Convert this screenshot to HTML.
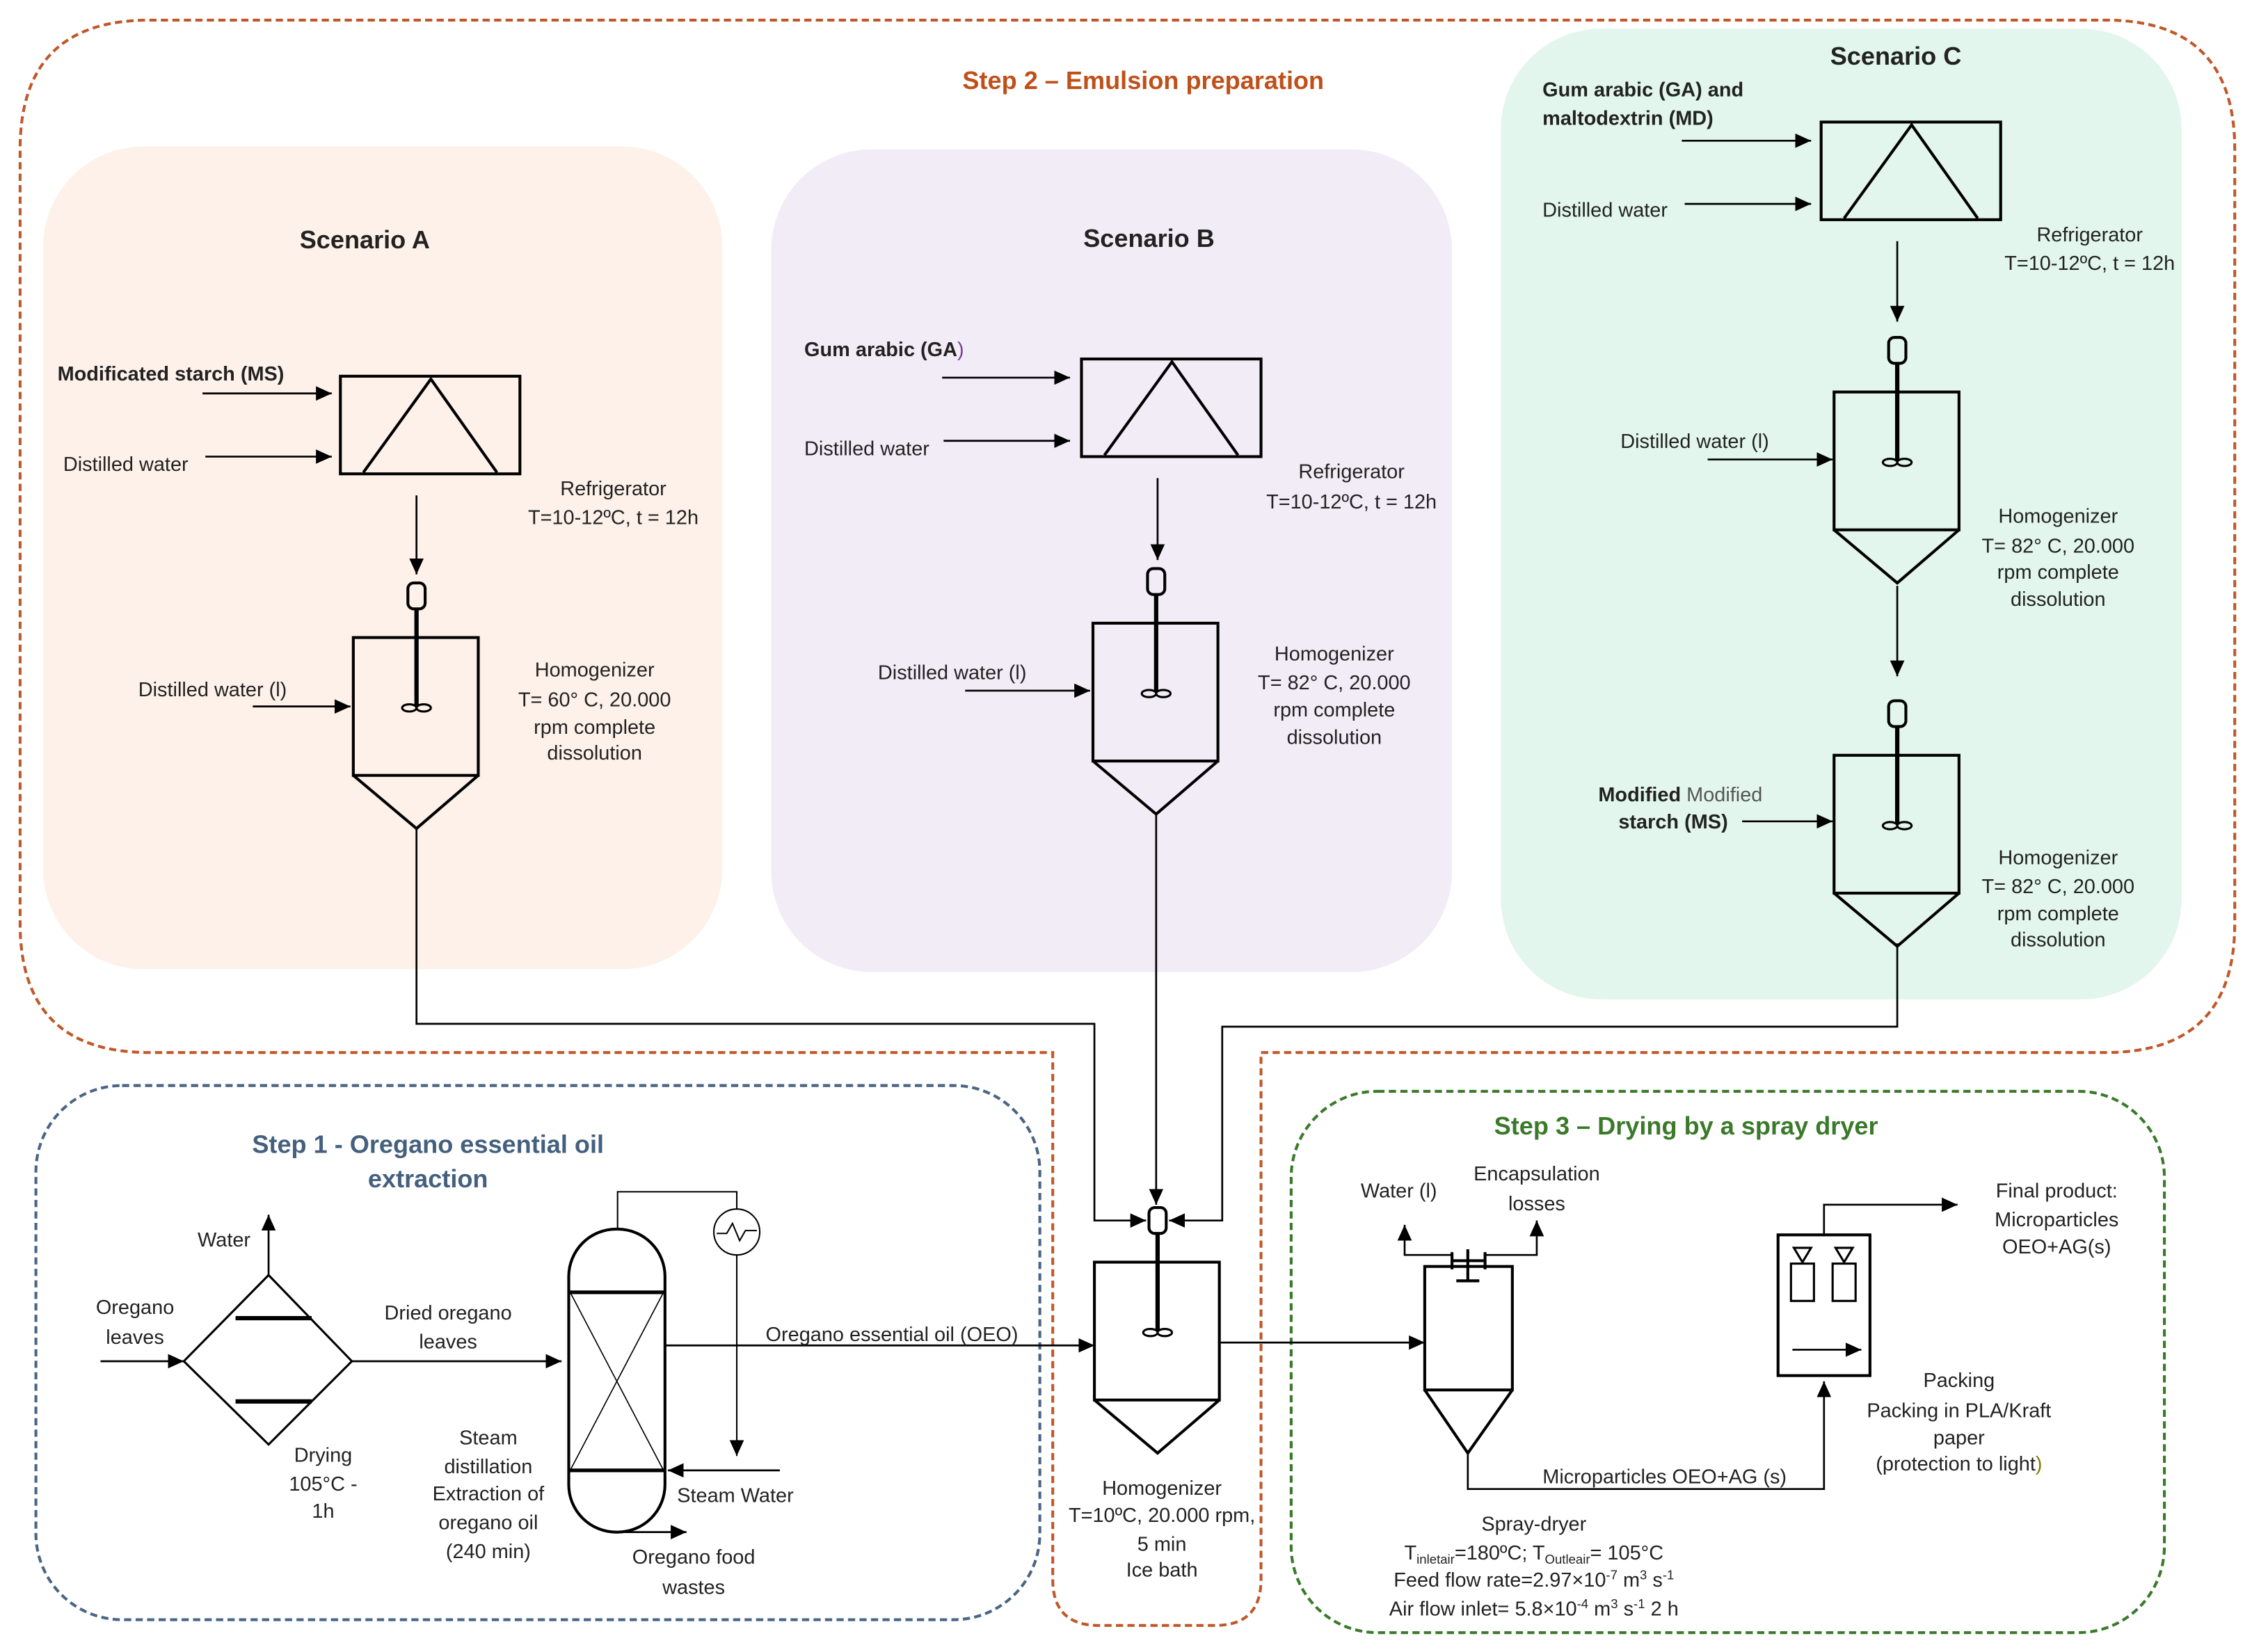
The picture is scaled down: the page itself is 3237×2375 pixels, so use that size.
<!DOCTYPE html>
<html><head><meta charset="utf-8"><style>
html,body{margin:0;padding:0;background:#fff;}
svg{display:block;}
text{font-family:"Liberation Sans",sans-serif;font-size:14px;fill:#222;}
.b{font-weight:bold;}
.c{text-anchor:middle;}
.t{font-size:17.5px;font-weight:bold;}
</style></head><body>
<svg width="3237" height="2375" viewBox="0 0 1568 1150.5" preserveAspectRatio="none" xmlns="http://www.w3.org/2000/svg">
<defs>
<marker id="ar" markerUnits="userSpaceOnUse" markerWidth="12" markerHeight="12" refX="11" refY="6" orient="auto">
<path d="M0,1 L11,6 L0,11 Z" fill="#000"/></marker>
<g id="tank" fill="none" stroke="#000">
<rect x="-6" y="0" width="12" height="18" rx="4" stroke-width="2"/>
<line x1="0" y1="18" x2="0" y2="86" stroke-width="3"/>
<ellipse cx="-5" cy="87" rx="5" ry="2.5" stroke-width="1.5"/>
<ellipse cx="5" cy="87" rx="5" ry="2.5" stroke-width="1.5"/>
<rect x="-44" y="38" width="87" height="96" stroke-width="2"/>
<path d="M-44,134 L0,171 L43,134" stroke-width="2"/>
</g>
<g id="fridge" fill="none" stroke="#000" stroke-width="2">
<rect x="0" y="0" width="125" height="68"/>
<path d="M16,67 L63,2 L109,67"/>
</g>
</defs>
<rect width="1568" height="1150.5" fill="#fff"/>

<!-- scenario backgrounds -->
<rect x="30" y="102" width="473" height="573" rx="70" fill="#fdf1e9"/>
<rect x="537" y="104" width="474" height="573" rx="70" fill="#f2ecf7"/>
<rect x="1045" y="20" width="474" height="676" rx="70" fill="#e2f6ee"/>

<!-- Step 2 outer dashed -->
<path d="M104,14 L1466,14 Q1556,14 1556,104 L1556,643 Q1556,733 1466,733 L878,733 L878,1100 Q878,1132 846,1132 L765,1132 Q733,1132 733,1100 L733,733 L104,733 Q14,733 14,643 L14,104 Q14,14 104,14 Z" fill="none" stroke="#c0582a" stroke-width="2" stroke-dasharray="5,3"/>
<!-- Step 1 -->
<rect x="25" y="756" width="699" height="372" rx="60" fill="none" stroke="#4a6585" stroke-width="2" stroke-dasharray="5,3"/>
<!-- Step 3 -->
<rect x="899" y="760" width="608" height="377" rx="60" fill="none" stroke="#3a7a2a" stroke-width="2" stroke-dasharray="5,3"/>

<text x="796" y="62" class="c t" style="fill:#c0501a">Step 2 – Emulsion preparation</text>
<text x="254" y="173" class="c t">Scenario A</text>
<text x="800" y="172" class="c t">Scenario B</text>
<text x="1320" y="45" class="c t">Scenario C</text>

<!-- Scenario A -->
<use href="#fridge" x="237" y="262"/>
<line x1="141" y1="274" x2="231" y2="274" stroke="#000" stroke-width="1.3" marker-end="url(#ar)"/>
<line x1="143" y1="318" x2="231" y2="318" stroke="#000" stroke-width="1.3" marker-end="url(#ar)"/>
<text x="40" y="265" class="b">Modificated starch (MS)</text>
<text x="44" y="328">Distilled water</text>
<text x="427" y="345" class="c">Refrigerator</text>
<text x="427" y="365" class="c">T=10-12ºC, t = 12h</text>
<line x1="290" y1="345" x2="290" y2="400" stroke="#000" stroke-width="1.3" marker-end="url(#ar)"/>
<use href="#tank" x="290" y="406"/>
<line x1="176" y1="492" x2="244" y2="492" stroke="#000" stroke-width="1.3" marker-end="url(#ar)"/>
<text x="148" y="485" class="c">Distilled water (l)</text>
<text x="414" y="471" class="c">Homogenizer</text>
<text x="414" y="492" class="c">T= 60° C, 20.000</text>
<text x="414" y="511" class="c">rpm complete</text>
<text x="414" y="529" class="c">dissolution</text>

<!-- Scenario B -->
<use href="#fridge" x="753" y="250"/>
<line x1="656" y1="263" x2="745" y2="263" stroke="#000" stroke-width="1.3" marker-end="url(#ar)"/>
<line x1="657" y1="307" x2="745" y2="307" stroke="#000" stroke-width="1.3" marker-end="url(#ar)"/>
<text x="560" y="248" class="b">Gum arabic  (GA<tspan style="font-weight:normal;fill:#7a3fa0">)</tspan></text>
<text x="560" y="317">Distilled water</text>
<text x="941" y="333" class="c">Refrigerator</text>
<text x="941" y="354" class="c">T=10-12ºC, t = 12h</text>
<line x1="806" y1="333" x2="806" y2="390" stroke="#000" stroke-width="1.3" marker-end="url(#ar)"/>
<use href="#tank" x="805" y="396"/>
<line x1="672" y1="481" x2="759" y2="481" stroke="#000" stroke-width="1.3" marker-end="url(#ar)"/>
<text x="663" y="473" class="c">Distilled water (l)</text>
<text x="929" y="460" class="c">Homogenizer</text>
<text x="929" y="480" class="c">T= 82° C, 20.000</text>
<text x="929" y="499" class="c">rpm complete</text>
<text x="929" y="518" class="c">dissolution</text>

<!-- Scenario C -->
<use href="#fridge" x="1268" y="85"/>
<line x1="1171" y1="98" x2="1261" y2="98" stroke="#000" stroke-width="1.3" marker-end="url(#ar)"/>
<line x1="1173" y1="142" x2="1261" y2="142" stroke="#000" stroke-width="1.3" marker-end="url(#ar)"/>
<text x="1074" y="67" class="b">Gum arabic (GA) and</text>
<text x="1074" y="87" class="b">maltodextrin (MD)</text>
<text x="1074" y="151">Distilled water</text>
<text x="1455" y="168" class="c">Refrigerator</text>
<text x="1455" y="188" class="c">T=10-12ºC, t = 12h</text>
<line x1="1321" y1="168" x2="1321" y2="224" stroke="#000" stroke-width="1.3" marker-end="url(#ar)"/>
<use href="#tank" x="1321" y="235"/>
<line x1="1189" y1="320" x2="1276" y2="320" stroke="#000" stroke-width="1.3" marker-end="url(#ar)"/>
<text x="1180" y="312" class="c">Distilled water (l)</text>
<text x="1433" y="364" class="c">Homogenizer</text>
<text x="1433" y="385" class="c">T= 82° C, 20.000</text>
<text x="1433" y="403" class="c">rpm complete</text>
<text x="1433" y="422" class="c">dissolution</text>
<line x1="1321" y1="408" x2="1321" y2="471" stroke="#000" stroke-width="1.3" marker-end="url(#ar)"/>
<use href="#tank" x="1321" y="488"/>
<line x1="1213" y1="572" x2="1276" y2="572" stroke="#000" stroke-width="1.3" marker-end="url(#ar)"/>
<text x="1170" y="558" class="c"><tspan class="b">Modified</tspan> <tspan style="fill:#555">Modified</tspan></text>
<text x="1165" y="577" class="c b">starch (MS)</text>
<text x="1433" y="602" class="c">Homogenizer</text>
<text x="1433" y="622" class="c">T= 82° C, 20.000</text>
<text x="1433" y="641" class="c">rpm complete</text>
<text x="1433" y="659" class="c">dissolution</text>

<!-- connectors to central homogenizer -->
<path d="M290,577 L290,713 L762,713 L762,850 L798,850" fill="none" stroke="#000" stroke-width="1.3" marker-end="url(#ar)"/>
<path d="M1321,657 L1321,715 L851,715 L851,850 L814,850" fill="none" stroke="#000" stroke-width="1.3" marker-end="url(#ar)"/>
<line x1="805" y1="567" x2="805" y2="839" stroke="#000" stroke-width="1.3" marker-end="url(#ar)"/>
<use href="#tank" x="806" y="841"/>
<text x="809" y="1041" class="c">Homogenizer</text>
<text x="809" y="1060" class="c">T=10ºC, 20.000 rpm,</text>
<text x="809" y="1080" class="c">5 min</text>
<text x="809" y="1098" class="c">Ice bath</text>

<!-- Step 1 -->
<text x="298" y="803" class="c t" style="fill:#44607e">Step 1 - Oregano essential oil</text>
<text x="298" y="827" class="c t" style="fill:#44607e">extraction</text>
<path d="M187,888 L245,948 L187,1006 L128,948 Z" fill="none" stroke="#000" stroke-width="1.5"/>
<line x1="164" y1="918" x2="217" y2="918" stroke="#000" stroke-width="3"/>
<line x1="164" y1="976" x2="217" y2="976" stroke="#000" stroke-width="3"/>
<line x1="187" y1="888" x2="187" y2="846" stroke="#000" stroke-width="1.3" marker-end="url(#ar)"/>
<text x="156" y="868" class="c">Water</text>
<text x="94" y="915" class="c">Oregano</text>
<text x="94" y="936" class="c">leaves</text>
<line x1="70" y1="948" x2="128" y2="948" stroke="#000" stroke-width="1.3" marker-end="url(#ar)"/>
<text x="312" y="919" class="c">Dried oregano</text>
<text x="312" y="939" class="c">leaves</text>
<line x1="245" y1="948" x2="391" y2="948" stroke="#000" stroke-width="1.3" marker-end="url(#ar)"/>
<text x="225" y="1018" class="c">Drying</text>
<text x="225" y="1038" class="c">105°C -</text>
<text x="225" y="1057" class="c">1h</text>
<rect x="396" y="856" width="67" height="211" rx="33" fill="none" stroke="#000" stroke-width="2"/>
<line x1="396" y1="900" x2="463" y2="900" stroke="#000" stroke-width="2.5"/>
<line x1="396" y1="1024" x2="463" y2="1024" stroke="#000" stroke-width="2.5"/>
<path d="M397,900 L462,1024 M462,900 L397,1024" stroke="#000" stroke-width="0.8"/>
<path d="M430,856 L430,830 L513,830 L513,842" fill="none" stroke="#000" stroke-width="1"/>
<circle cx="513" cy="858" r="16" fill="#fff" stroke="#000" stroke-width="1"/>
<path d="M499,859 L506,859 L510,852 L515,864 L519,857 L527,857" fill="none" stroke="#000" stroke-width="1"/>
<line x1="513" y1="874" x2="513" y2="1014" stroke="#000" stroke-width="1" marker-end="url(#ar)"/>
<line x1="543" y1="1024" x2="465" y2="1024" stroke="#000" stroke-width="1.3" marker-end="url(#ar)"/>
<text x="512" y="1046" class="c">Steam Water</text>
<line x1="432" y1="1067" x2="478" y2="1067" stroke="#000" stroke-width="1.3" marker-end="url(#ar)"/>
<text x="483" y="1089" class="c">Oregano food</text>
<text x="483" y="1110" class="c">wastes</text>
<text x="340" y="1006" class="c">Steam</text>
<text x="340" y="1026" class="c">distillation</text>
<text x="340" y="1045" class="c">Extraction of</text>
<text x="340" y="1065" class="c">oregano oil</text>
<text x="340" y="1085" class="c">(240 min)</text>
<line x1="463" y1="937" x2="762" y2="937" stroke="#000" stroke-width="1.3" marker-end="url(#ar)"/>
<text x="621" y="934" class="c">Oregano essential oil (OEO)</text>

<!-- Step 3 -->
<text x="1174" y="790" class="c t" style="fill:#3a7a2a">Step 3 – Drying by a spray dryer</text>
<line x1="850" y1="935" x2="992" y2="935" stroke="#000" stroke-width="1.3" marker-end="url(#ar)"/>
<rect x="992" y="882" width="61" height="86" fill="none" stroke="#000" stroke-width="2"/>
<path d="M992,968 L1022,1012 L1053,968" fill="none" stroke="#000" stroke-width="2"/>
<path d="M1011,872 L1011,884 M1034,872 L1034,884 M1011,878 L1034,878 M1022,870 L1022,892 M1014,892 L1030,892" stroke="#000" stroke-width="2" fill="none"/>
<path d="M1011,874 L978,874 L978,853" fill="none" stroke="#000" stroke-width="1.3" marker-end="url(#ar)"/>
<path d="M1034,874 L1070,874 L1070,850" fill="none" stroke="#000" stroke-width="1.3" marker-end="url(#ar)"/>
<text x="974" y="834" class="c">Water (l)</text>
<text x="1070" y="822" class="c">Encapsulation</text>
<text x="1070" y="843" class="c">losses</text>
<path d="M1022,1012 L1022,1037 L1270,1037 L1270,962" fill="none" stroke="#000" stroke-width="1.3" marker-end="url(#ar)"/>
<text x="1159" y="1033" class="c">Microparticles OEO+AG (s)</text>
<text x="1068" y="1066" class="c">Spray-dryer</text>
<text x="1068" y="1086" class="c">T<tspan font-size="9" dy="3">inletair</tspan><tspan dy="-3">=180ºC; T</tspan><tspan font-size="9" dy="3">Outleair</tspan><tspan dy="-3">= 105°C</tspan></text>
<text x="1068" y="1105" class="c">Feed flow rate=2.97×10<tspan font-size="9" dy="-5">-7</tspan><tspan dy="5"> m</tspan><tspan font-size="9" dy="-5">3</tspan><tspan dy="5"> s</tspan><tspan font-size="9" dy="-5">-1</tspan></text>
<text x="1068" y="1125" class="c">Air flow inlet= 5.8×10<tspan font-size="9" dy="-5">-4</tspan><tspan dy="5"> m</tspan><tspan font-size="9" dy="-5">3</tspan><tspan dy="5"> s</tspan><tspan font-size="9" dy="-5">-1</tspan><tspan dy="5">  2 h</tspan></text>
<rect x="1238" y="860" width="64" height="98" fill="none" stroke="#000" stroke-width="2"/>
<rect x="1247" y="880" width="16" height="26" fill="none" stroke="#000" stroke-width="1.5"/>
<rect x="1276" y="880" width="16" height="26" fill="none" stroke="#000" stroke-width="1.5"/>
<path d="M1249,869 L1261,869 L1255,879 Z M1278,869 L1290,869 L1284,879 Z" fill="none" stroke="#000" stroke-width="1.5"/>
<line x1="1248" y1="940" x2="1296" y2="940" stroke="#000" stroke-width="1.3" marker-end="url(#ar)"/>
<path d="M1270,860 L1270,839 L1363,839" fill="none" stroke="#000" stroke-width="1.3" marker-end="url(#ar)"/>
<text x="1432" y="834" class="c">Final product:</text>
<text x="1432" y="854" class="c">Microparticles</text>
<text x="1432" y="873" class="c">OEO+AG(s)</text>
<text x="1364" y="966" class="c">Packing</text>
<text x="1364" y="987" class="c">Packing in PLA/Kraft</text>
<text x="1364" y="1006" class="c">paper</text>
<text x="1364" y="1024" class="c">(protection to light<tspan style="fill:#8a7a00">)</tspan></text>
</svg>
</body></html>
